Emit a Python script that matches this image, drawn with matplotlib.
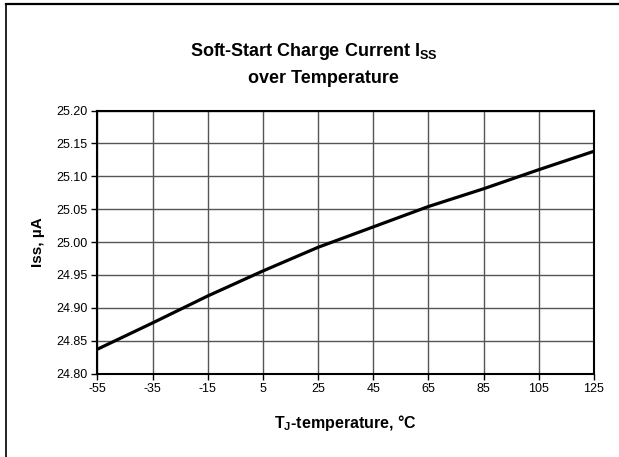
import matplotlib
matplotlib.use('Agg')
import matplotlib.pyplot as plt
from matplotlib.lines import Line2D

plt.rcParams['font.family'] = ['Liberation Sans', 'DejaVu Sans']
plt.rcParams['mathtext.fontset'] = 'custom'
plt.rcParams['mathtext.rm'] = 'Liberation Sans'
plt.rcParams['mathtext.bf'] = 'Liberation Sans:bold'
plt.rcParams['axes.unicode_minus'] = False

# junction temperature, degC
temp = [-55, -35, -15, 5, 25, 45, 65, 85, 105, 125]
# soft-start charge current, uA
iss = [24.837, 24.877, 24.918, 24.956, 24.992, 25.023, 25.054, 25.081, 25.110, 25.138]

x_ticks = [-55, -35, -15, 5, 25, 45, 65, 85, 105, 125]
y_ticks = [24.80, 24.85, 24.90, 24.95, 25.00, 25.05, 25.10, 25.15, 25.20]

fig = plt.figure(figsize=(6.19, 4.57), dpi=100)
ax = fig.add_axes([0.1575, 0.1827, 0.8021, 0.5755])

ax.plot(temp, iss, color='black', linewidth=2.3, solid_capstyle='butt')

ax.set_xlim(-55, 125)
ax.set_ylim(24.80, 25.20)
ax.set_xticks(x_ticks)
ax.set_yticks(y_ticks)
ax.set_yticklabels(['%.2f' % v for v in y_ticks])
ax.tick_params(axis='both', labelsize=9, length=4, width=1, direction='out', pad=3)
ax.grid(True, color='#555555', linewidth=1.0)
ax.set_axisbelow(True)
for s in ax.spines.values():
    s.set_linewidth(1.5)
    s.set_color('black')

ax.set_xlabel(r'T$_\mathbf{J}$-temperature, °C', fontsize=11.5, fontweight='bold', labelpad=13)
ax.set_ylabel('Iss, µA', fontsize=11, fontweight='bold', labelpad=8)

fig.text(0.507, 0.888, r'Soft-Start Charge Current I$_\mathbf{SS}$', ha='center', va='center',
         fontsize=13, fontweight='bold')
fig.text(0.522, 0.829, 'over Temperature', ha='center', va='center',
         fontsize=13, fontweight='bold')

# chart area border (top and left edges visible)
fig.add_artist(Line2D([5.5 / 619, 5.5 / 619], [0, 1 - 4 / 457], transform=fig.transFigure,
                      color='black', linewidth=1.2))
fig.add_artist(Line2D([5.5 / 619, 1], [1 - 4 / 457, 1 - 4 / 457], transform=fig.transFigure,
                      color='black', linewidth=1.6))

fig.savefig('out.png', dpi=100)
